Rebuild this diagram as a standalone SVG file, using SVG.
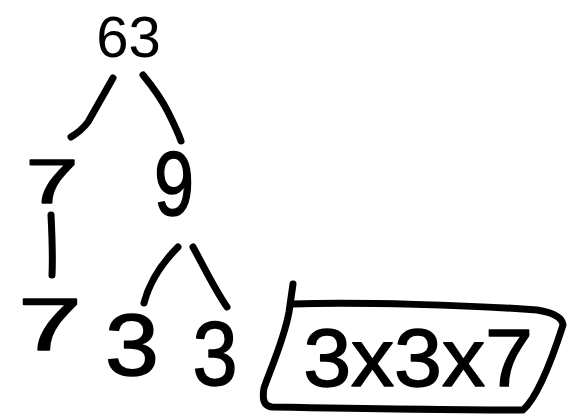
<svg xmlns="http://www.w3.org/2000/svg" width="568" height="417" viewBox="0 0 568 417">
<style>
.typed{font-family:"Liberation Sans",Arial,sans-serif;fill:#000}
.hand{font-family:"Liberation Sans",Arial,sans-serif;fill:#000;stroke:#000;stroke-width:1.5;stroke-linejoin:round}
.ln{fill:none;stroke:#000;stroke-width:7;stroke-linecap:round;stroke-linejoin:round}
</style>
<rect width="568" height="417" fill="#fff"/>
<g id="n63"><text class="typed" x="128.5" y="57" font-size="58" text-anchor="middle">63</text></g>
<g id="n7a"><text class="hand" transform="translate(52,203) scale(1.5,1)" font-size="63" text-anchor="middle">7</text></g>
<g id="n9"><text class="hand" transform="translate(174,215) scale(0.8,1)" font-size="90" text-anchor="middle">9</text></g>
<g id="n7b"><text class="hand" transform="translate(50,350) scale(1.55,1)" font-size="74" text-anchor="middle">7</text></g>
<g id="n3a"><text class="hand" transform="translate(132,375) scale(1.1,1)" font-size="88" text-anchor="middle">3</text></g>
<g id="n3b"><text class="hand" transform="translate(215,385) scale(0.9,1)" font-size="90" text-anchor="middle">3</text></g>
<g id="result">
<path class="ln" d="M293,284 L289,312 C284,340 270,370 264,388 C262,400 264,406 272,407 C330,408 450,410 523,410 C540,395 555,350 563,325 C562,316 550,312 537,310 C470,305 360,302 292,304"/>
<text class="hand" transform="translate(418,386) scale(1.05,1)" font-size="82" text-anchor="middle">3x3x7</text>
</g>
<g id="connectors">
<path class="ln" d="M113,78 C105,92 96,108 88,122 C82,130 76,134 71,137"/>
<path class="ln" d="M143,75 C152,86 162,100 168,112 C173,122 178,132 181,141"/>
<path class="ln" d="M51,215 C52,235 53,255 52,275"/>
<path class="ln" d="M178,247 C165,260 150,280 144,303"/>
<path class="ln" d="M193,247 C203,265 215,290 227,307"/>
</g>
</svg>
